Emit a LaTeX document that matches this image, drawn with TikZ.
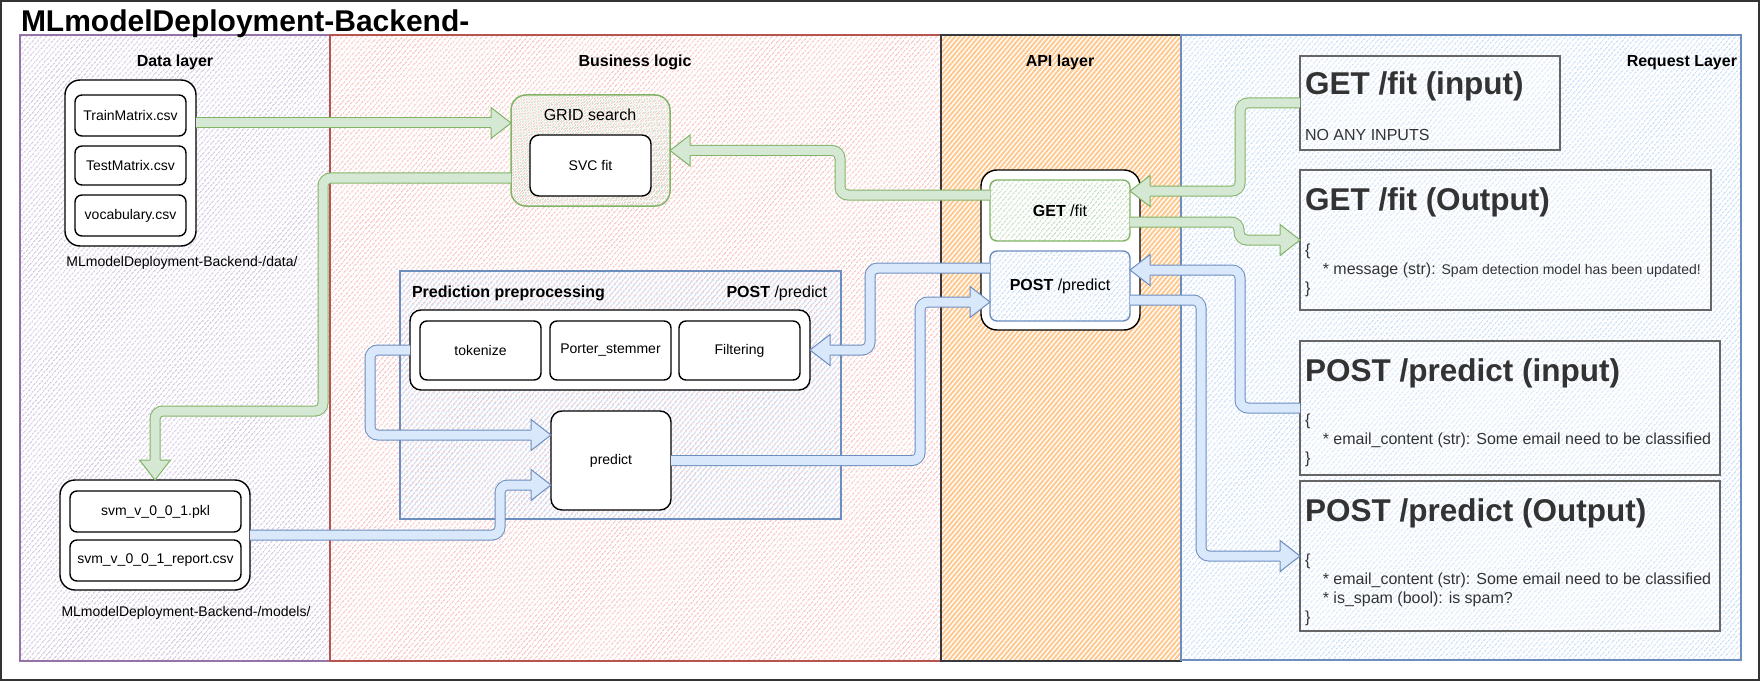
\documentclass[tikz,border=0pt]{standalone}
\usepackage{fontspec}
\setmainfont{Liberation Sans}
\usetikzlibrary{calc,patterns.meta}
\definecolor{gS}{HTML}{82B366}
\definecolor{gF}{HTML}{D5E8D4}
\definecolor{gH}{HTML}{C6DFC4}
\definecolor{bS}{HTML}{6C8EBF}
\definecolor{bF}{HTML}{DAE8FC}
\definecolor{bH}{HTML}{CCDFF8}
\definecolor{pS}{HTML}{9673A6}
\definecolor{pF}{HTML}{D6CAE2}
\definecolor{rS}{HTML}{B85450}
\definecolor{rF}{HTML}{F7C6C4}
\definecolor{oF}{HTML}{FFC88F}
\definecolor{aS}{HTML}{36393D}
\definecolor{txt}{HTML}{333333}
\definecolor{gryS}{HTML}{666666}
\newcommand\fhead[3]{\draw[#1, line width=1pt, shift={(#2)}, rotate=#3] (-20,5) -- (-20,15.5) -- (0,0) -- (-20,-15.5) -- (-20,-5);}
\begin{document}
\begin{tikzpicture}[x=1pt,y=-1pt,
  every node/.style={inner sep=0pt, outer sep=0pt},
  f14/.style={font=\fontsize{14}{17}\selectfont},
  f16/.style={font=\fontsize{16}{19}\selectfont},
  f16b/.style={font=\fontsize{16}{19}\selectfont\bfseries},
  rtitle/.style={font=\fontsize{31.5}{36}\selectfont\bfseries, text=txt, anchor=base west},
  rbody/.style={font=\fontsize{16}{19}\selectfont, text=txt, anchor=base west},
  hatch/.style={pattern={Lines[angle=50, distance=4pt, line width=1.5pt]}, pattern color=#1},
  layer/.style={line width=1.5pt, anchor=north west},
  blk/.style={draw=black, line width=1.4pt, fill=white, rounded corners=#1, anchor=north west, f14},
  blk/.default=7pt,
  reqbox/.style={draw=gryS, line width=1.5pt, fill=white, fill opacity=0.25, anchor=north west},
  gfa/.style={draw=gS, double=gF, double distance=9pt, line width=1pt, rounded corners=8pt},
  bfa/.style={draw=bS, double=bF, double distance=9pt, line width=1pt, rounded corners=8pt},
  ghd/.style={draw=gS, fill=gF},
  bhd/.style={draw=bS, fill=bF}
]
\useasboundingbox (0,0) rectangle (1762,682);
% outer frame
\node[draw=black!80, line width=1.5pt, minimum width=1758, minimum height=679, anchor=north west] (frame) at (1,1) {};
% layers
\node[layer, draw=pS, hatch=pF, minimum width=310, minimum height=626] (dataL) at (20,35) {};
\node[layer, draw=rS, hatch=rF, minimum width=611, minimum height=626] (bizL) at (330,35) {};
\node[layer, draw=aS, pattern={Lines[angle=50, distance=3.6pt, line width=2pt]}, pattern color=oF, minimum width=240, minimum height=626] (apiL) at (941,35) {};
\node[layer, draw=bS, hatch=bH, minimum width=560, minimum height=625] (reqL) at (1181,35) {};
% title and layer labels
\node[font=\fontsize{30}{35}\selectfont\bfseries, anchor=base west] (title) at (21,32) {MLmodelDeployment-Backend-};
\node[f16b, anchor=base] (dataT) at (175,66.5) {Data layer};
\node[f16b, anchor=base] (bizT) at (635,66.5) {Business logic};
\node[f16b, anchor=base] (apiT) at (1060,66.5) {API layer};
\node[f16b, anchor=base east] (reqT) at (1737,66.5) {Request Layer};
% data layer
\node[blk=15pt, minimum width=131, minimum height=166] (dataF) at (65,80) {};
\node[blk, minimum width=111, minimum height=41] (train) at (75,95) {TrainMatrix.csv};
\node[blk, minimum width=111, minimum height=39] (test) at (75,146) {TestMatrix.csv};
\node[blk, minimum width=111, minimum height=41] (vocab) at (75,195) {vocabulary.csv};
\node[f14, anchor=base] (dataLbl) at (182,266) {MLmodelDeployment-Backend-/data/};
\node[blk=15pt, minimum width=190, minimum height=110] (modelsF) at (60,480) {};
\node[blk, minimum width=171, minimum height=41] (pkl) at (70,491) {svm\_v\_0\_0\_1.pkl};
\node[blk, minimum width=171, minimum height=41] (report) at (70,540) {svm\_v\_0\_0\_1\_report.csv};
\node[f14, anchor=base] (modelsLbl) at (186,616) {MLmodelDeployment-Backend-/models/};
% business logic
\node[draw=gS, line width=1.5pt, hatch=gH, rounded corners=15pt, minimum width=159, minimum height=111, anchor=north west] (grid) at (511,95) {};
\node[f16, anchor=base] (gridT) at (590,121) {GRID search};
\node[blk=9pt, minimum width=121, minimum height=61] (svc) at (530,135) {SVC fit};
\node[draw=bS, line width=1.5pt, hatch=bH, minimum width=441, minimum height=248, anchor=north west] (pp) at (400,271) {};
\node[f16b, anchor=base west] (ppT) at (412,297) {Prediction preprocessing};
\node[f16, anchor=base east] (ppR) at (827,297) {\textbf{POST} /predict};
\node[blk=11pt, minimum width=400, minimum height=80] (stepsF) at (410,310) {};
\node[blk, minimum width=121, minimum height=59] (tok) at (420,321) {tokenize};
\node[blk, minimum width=121, minimum height=59] (port) at (550,321) {Porter\_stemmer};
\node[blk, minimum width=121, minimum height=59] (filt) at (679,321) {Filtering};
\node[blk=11pt, minimum width=120, minimum height=99] (pred) at (551,411) {predict};
% API layer
\node[blk=16pt, minimum width=159, minimum height=160] (apiF) at (981,170) {};
\node[draw=gS, line width=1.4pt, hatch=gH, rounded corners=7pt, minimum width=140, minimum height=61, anchor=north west, f16] (getB) at (990,180) {\textbf{GET} /fit};
\node[draw=bS, line width=1.4pt, hatch=bH, rounded corners=7pt, minimum width=140, minimum height=70, anchor=north west, f16] (postB) at (990,251) {\textbf{POST} /predict};
% request layer
\node[reqbox, minimum width=260, minimum height=94] (gin) at (1300,56) {};
\node[rtitle] (ginT) at (1305,95) {GET /fit (input)};
\node[rbody] (ginB) at (1305,141) {NO ANY INPUTS};
\node[reqbox, minimum width=411, minimum height=140] (gout) at (1300,170) {};
\node[rtitle] (goutT) at (1305,210) {GET /fit (Output)};
\node[rbody] (gout1) at (1305,255) {\{};
\node[rbody] (gout2) at (1305,274) {\hspace*{17.8pt}* message (str): {\fontsize{14}{17}\selectfont Spam detection model has been updated!}};
\node[rbody] (gout3) at (1305,293) {\}};
\node[reqbox, minimum width=420, minimum height=134] (pin) at (1300,341) {};
\node[rtitle] (pinT) at (1305,381) {POST /predict (input)};
\node[rbody] (pin1) at (1305,425) {\{};
\node[rbody] (pin2) at (1305,444) {\hspace*{17.8pt}* email\_content (str): Some email need to be classified};
\node[rbody] (pin3) at (1305,463) {\}};
\node[reqbox, minimum width=420, minimum height=150] (pout) at (1300,481) {};
\node[rtitle] (poutT) at (1305,521) {POST /predict (Output)};
\node[rbody] (pout1) at (1305,565) {\{};
\node[rbody] (pout2) at (1305,584) {\hspace*{17.8pt}* email\_content (str): Some email need to be classified};
\node[rbody] (pout3) at (1305,603) {\hspace*{17.8pt}* is\_spam (bool): is spam?};
\node[rbody] (pout4) at (1305,622) {\}};
% connectors
% A1 data -> grid
\coordinate (a1s) at ($(dataF.north east)+(0,43)$);
\coordinate (a1t) at (grid.west |- a1s);
\draw[gfa] (a1s) -- ($(a1t)+(-19.5,0)$);
\fhead{ghd}{a1t}{0}
% A2 grid -> models
\coordinate (a2s) at ($(grid.south west)+(0,-28)$);
\draw[gfa] (a2s) -- (323,178) -- (323,411) -- (155,411) -- ($(modelsF.north)+(0,-19.5)$);
\fhead{ghd}{modelsF.north}{-90}
% A3 GET /fit -> grid
\coordinate (a3s) at ($(getB.west)+(0,-15.5)$);
\draw[gfa] (a3s) -- (840,195) -- (840,150.5) -- ($(grid.east)+(19.5,0)$);
\fhead{ghd}{grid.east}{180}
% A4 GET input -> GET /fit
\coordinate (a4t) at ($(getB.north east)+(0,11)$);
\draw[gfa] (gin.west) -- (1240,103) -- (1240,191) -- ($(a4t)+(19.5,0)$);
\fhead{ghd}{a4t}{180}
% A5 GET /fit -> GET output
\coordinate (a5s) at ($(getB.north east)+(0,42)$);
\draw[gfa] (a5s) -- (1239,222) -- (1239,240) -- ($(gout.west)+(-19.5,0)$);
\fhead{ghd}{gout.west}{0}
% A6 POST input -> POST /predict
\coordinate (a6t) at ($(postB.north east)+(0,19)$);
\draw[bfa] (pin.west) -- (1240,408) -- (1240,270) -- ($(a6t)+(19.5,0)$);
\fhead{bhd}{a6t}{180}
% A7 POST /predict -> POST output
\coordinate (a7s) at ($(postB.north east)+(0,49)$);
\draw[bfa] (a7s) -- (1201,300) -- (1201,556) -- ($(pout.west)+(-19.5,0)$);
\fhead{bhd}{pout.west}{0}
% A8 POST /predict -> preprocessing steps
\coordinate (a8s) at ($(postB.north west)+(0,17)$);
\draw[bfa] (a8s) -- (870,268) -- (870,350) -- ($(stepsF.east)+(19.5,0)$);
\fhead{bhd}{stepsF.east}{180}
% A9 predict -> POST /predict
\coordinate (a9t) at ($(postB.north west)+(0,51)$);
\draw[bfa] (pred.east) -- (920,460.5) -- (920,302) -- ($(a9t)+(-19.5,0)$);
\fhead{bhd}{a9t}{0}
% A10 steps -> predict
\coordinate (a10t) at ($(pred.north west)+(0,24)$);
\draw[bfa] (stepsF.west) -- (370,350) -- (370,435) -- ($(a10t)+(-19.5,0)$);
\fhead{bhd}{a10t}{0}
% A11 models -> predict
\coordinate (a11s) at ($(modelsF.north east)+(0,55)$);
\coordinate (a11t) at ($(pred.north west)+(0,74)$);
\draw[bfa] (a11s) -- (500,535) -- (500,485) -- ($(a11t)+(-19.5,0)$);
\fhead{bhd}{a11t}{0}
\end{tikzpicture}
\end{document}
